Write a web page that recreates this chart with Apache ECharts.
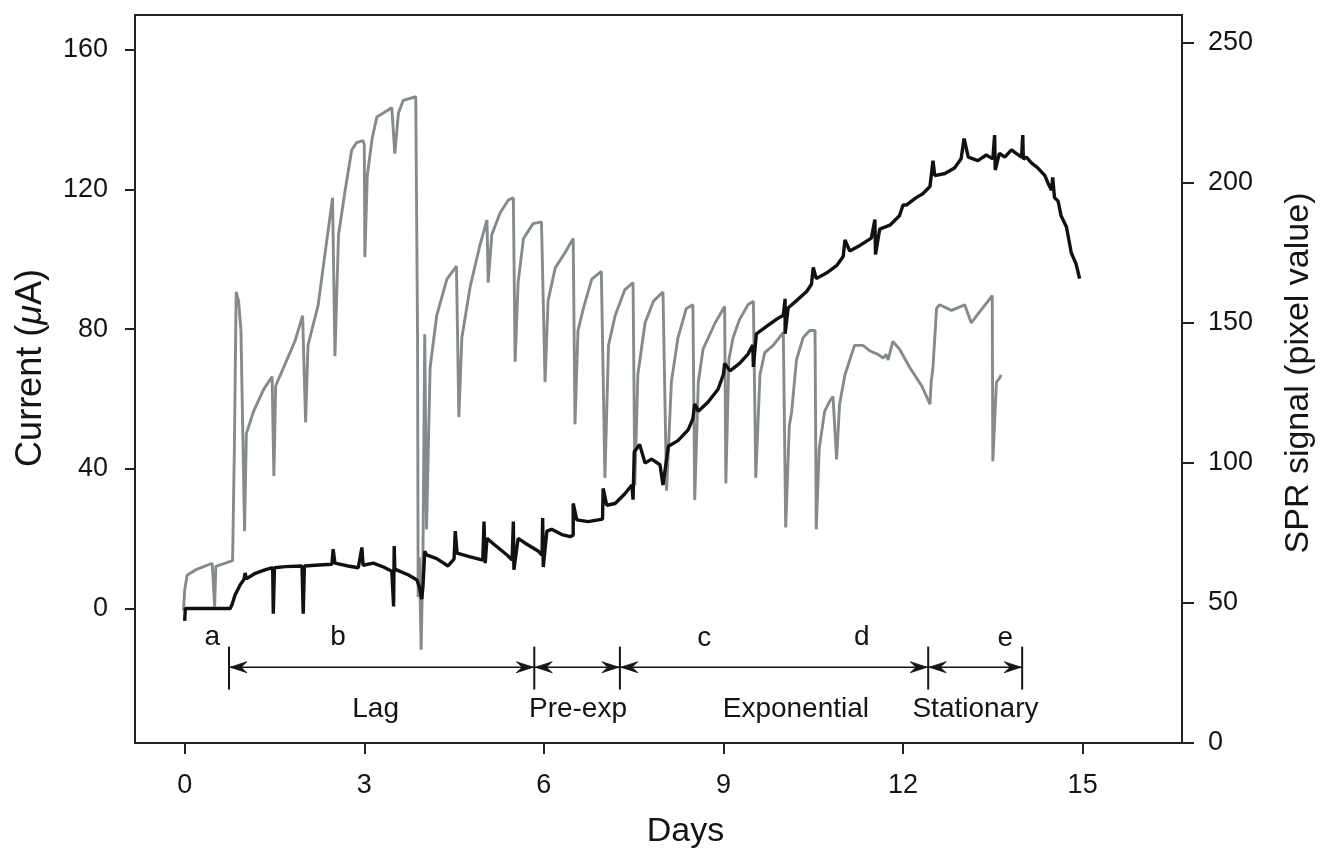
<!DOCTYPE html>
<html>
<head>
    <meta charset="utf-8">
    <title>Current and SPR signal vs days</title>
    <script src="https://cdn.jsdelivr.net/npm/echarts@6/dist/echarts.min.js"></script>
</head>
<body style="margin:0;background:#fff;">
<div id="chart-container" style="width: 1324px; height: 854px;"></div>
<script>
    // tick labels
    var dayTicks = [0, 3, 6, 9, 12, 15];
    var currentTicks = [0, 40, 80, 120, 160];
    var sprTicks = [0, 50, 100, 150, 200, 250];

    // current (uA), left axis: [day, value]
    var current = [
        [0.00, -3.5], [0.01, 0], [0.76, 0], [0.79, 1.1], [0.84, 3.8], [0.93, 6.9], [0.99, 8.3], [1.01, 10.2],
        [1.03, 8.5], [1.18, 10.1], [1.34, 11.1], [1.47, 11.7], [1.48, -1.5], [1.50, 11.7], [1.68, 12.0],
        [1.96, 12.2], [1.98, -1.5], [2.00, 12.2], [2.18, 12.4], [2.46, 12.7], [2.48, 17.0], [2.51, 13.0],
        [2.73, 12.2], [2.90, 11.7], [2.96, 17.5], [2.98, 12.4], [3.15, 13.0], [3.32, 11.9], [3.46, 10.7],
        [3.49, 0.6], [3.50, 17.9], [3.51, 11.3], [3.74, 9.6], [3.88, 8.2], [3.92, 6.2], [3.96, 2.7], [3.98, 6.2],
        [4.01, 16.4], [4.04, 15.4], [4.21, 14.3], [4.40, 12.2], [4.50, 14.2], [4.52, 22.2], [4.55, 15.9],
        [4.77, 14.8], [4.98, 13.9], [5.00, 24.9], [5.02, 13.0], [5.05, 20.1], [5.16, 18.5], [5.38, 15.4],
        [5.47, 13.9], [5.49, 24.9], [5.50, 11.1], [5.57, 20.1], [5.71, 18.5], [5.91, 16.4], [5.97, 15.3],
        [5.98, 25.9], [5.99, 11.9], [6.05, 22.2], [6.13, 22.7], [6.30, 21.2], [6.44, 20.6], [6.49, 21.0],
        [6.49, 30.1], [6.55, 25.4], [6.74, 24.9], [6.91, 25.4], [6.98, 25.6], [6.99, 34.4], [7.05, 29.6],
        [7.19, 30.1], [7.35, 32.8], [7.47, 35.4], [7.49, 31.2], [7.51, 44.9], [7.60, 47.0], [7.69, 41.7],
        [7.80, 42.8], [7.94, 41.2], [7.99, 35.4], [8.08, 46.5], [8.24, 48.1], [8.41, 51.2], [8.49, 54.4],
        [8.52, 58.6], [8.58, 56.5], [8.74, 59.1], [8.91, 62.8], [9.00, 67.1], [9.02, 70.2], [9.11, 68.1],
        [9.27, 70.2], [9.41, 72.9], [9.49, 75.5], [9.50, 69.2], [9.55, 78.7], [9.72, 80.8], [9.89, 82.9],
        [10.00, 84.0], [10.03, 88.7], [10.03, 78.7], [10.08, 86.1], [10.22, 88.2], [10.39, 90.8], [10.47, 92.9],
        [10.50, 97.7], [10.55, 94.5], [10.72, 96.1], [10.89, 98.2], [11.00, 100.8], [11.03, 105.6], [11.11, 102.4],
        [11.28, 104.0], [11.47, 106.1], [11.53, 111.4], [11.54, 101.4], [11.61, 108.7], [11.78, 109.8],
        [11.94, 112.5], [12.00, 115.6], [12.06, 115.6], [12.22, 117.7], [12.33, 118.8], [12.45, 120.9],
        [12.50, 128.3], [12.53, 124.0], [12.70, 124.6], [12.86, 126.2], [12.97, 128.8], [13.02, 134.6],
        [13.09, 129.3], [13.25, 128.3], [13.39, 129.9], [13.50, 128.8], [13.53, 135.6], [13.54, 125.6],
        [13.61, 130.4], [13.70, 129.3], [13.81, 131.4], [13.89, 130.4], [13.98, 129.3], [14.00, 135.6],
        [14.01, 128.7], [14.06, 129.3], [14.14, 127.7], [14.25, 126.2], [14.37, 124.0], [14.42, 121.9],
        [14.48, 119.8], [14.50, 123.5], [14.53, 117.7], [14.59, 116.7], [14.64, 112.5], [14.73, 109.3],
        [14.81, 101.9], [14.89, 98.7], [14.95, 94.5]
    ];

    // SPR signal (pixel value), right axis: [day, value]
    var spr = [
        [-0.02, 47.4], [0.00, 54.6], [0.04, 59.9], [0.18, 61.8], [0.46, 64.2], [0.50, 48.7], [0.52, 63.1],
        [0.80, 65.1], [0.83, 105.2], [0.86, 161.1], [0.90, 157.9], [0.94, 147.3], [1.00, 75.6], [1.03, 110.5],
        [1.15, 118.4], [1.32, 126.3], [1.46, 130.9], [1.49, 95.4], [1.52, 127.6], [1.68, 135.5], [1.84, 143.4],
        [1.97, 152.6], [2.02, 114.5], [2.06, 142.0], [2.23, 156.5], [2.37, 178.9], [2.47, 194.7], [2.51, 138.1],
        [2.57, 181.5], [2.68, 197.3], [2.79, 211.8], [2.87, 214.4], [2.98, 215.1], [3.00, 213.7], [3.01, 173.6],
        [3.05, 202.6], [3.13, 215.7], [3.21, 223.6], [3.46, 226.9], [3.51, 210.5], [3.57, 224.9], [3.65, 229.5],
        [3.86, 230.8], [3.89, 144.7], [3.90, 52.1], [3.92, 66.3], [3.95, 33.3], [3.98, 66.3], [4.01, 146.0],
        [4.04, 76.3], [4.10, 134.1], [4.21, 152.6], [4.38, 165.7], [4.54, 170.3], [4.58, 116.4], [4.63, 144.7],
        [4.77, 163.1], [4.93, 177.6], [5.05, 186.8], [5.07, 164.4], [5.13, 181.5], [5.27, 189.4], [5.41, 194.0],
        [5.49, 194.7], [5.52, 136.2], [5.57, 164.4], [5.66, 180.2], [5.82, 185.5], [5.96, 186.1], [6.02, 128.9],
        [6.07, 157.9], [6.19, 169.7], [6.35, 175.0], [6.49, 180.2], [6.52, 113.8], [6.57, 147.3], [6.66, 155.2],
        [6.80, 165.7], [6.96, 168.4], [7.02, 94.7], [7.08, 142.0], [7.19, 152.6], [7.35, 161.8], [7.49, 164.4],
        [7.52, 92.1], [7.57, 131.5], [7.69, 150.0], [7.83, 157.8], [7.99, 161.1], [8.05, 90.1], [8.13, 128.9],
        [8.24, 144.7], [8.38, 155.2], [8.49, 156.5], [8.52, 86.8], [8.58, 128.9], [8.66, 140.7], [8.86, 150.0],
        [9.02, 155.9], [9.04, 92.7], [9.09, 136.8], [9.16, 144.7], [9.27, 151.3], [9.41, 156.5], [9.50, 157.8],
        [9.54, 94.7], [9.61, 131.5], [9.69, 139.4], [9.83, 142.0], [10.00, 146.6], [10.04, 77.0], [10.10, 113.2],
        [10.14, 118.4], [10.22, 136.8], [10.33, 144.7], [10.44, 147.3], [10.53, 147.3], [10.55, 76.3],
        [10.60, 105.2], [10.69, 118.4], [10.78, 122.3], [10.83, 123.7], [10.89, 101.3], [10.94, 121.0],
        [11.03, 131.5], [11.11, 136.8], [11.19, 142.0], [11.33, 142.0], [11.44, 140.1], [11.58, 138.8],
        [11.67, 137.5], [11.72, 138.8], [11.75, 136.8], [11.83, 143.4], [11.94, 140.7], [12.11, 134.2],
        [12.31, 127.6], [12.45, 121.0], [12.47, 128.9], [12.50, 134.2], [12.53, 144.7], [12.56, 155.2],
        [12.61, 156.5], [12.81, 154.5], [13.03, 156.5], [13.14, 150.0], [13.23, 152.6], [13.42, 157.8],
        [13.49, 159.8], [13.50, 100.6], [13.56, 128.9], [13.61, 130.2], [13.64, 131.5]
    ];

    // growth phase boundaries (days) drawn as double arrows under the curves
    var phaseBounds = [0.74, 5.84, 7.27, 12.42, 13.99];
    var arrowLevel = -16.8;
    var barTop = -10.9;
    var barBottom = -23.2;

    // annotation texts: [day, current level]
    var letterNames = ['a', 'b', 'c', 'd', 'e'];
    var letterPos = [[0.46, -8.3], [2.56, -8.1], [8.68, -8.5], [11.31, -8.1], [13.71, -8.5]];
    var phaseNames = ['Lag', 'Pre-exp', 'Exponential', 'Stationary'];
    var phasePos = [[3.19, -28.9], [6.57, -28.9], [10.21, -28.9], [13.21, -28.9]];

    var FONT = '"Liberation Sans", Arial, Helvetica, sans-serif';
    var INK = '#151515';

    function arrowHead(x, y, dir) {
        // dir = 1: tip on the left, opening to the right
        return {
            type: 'polygon',
            shape: {points: [[x, y], [x + dir * 17, y - 5.5], [x + dir * 11, y], [x + dir * 17, y + 5.5]]},
            style: {fill: INK, stroke: INK, lineWidth: 0.8}
        };
    }

    function renderPhases(params, api) {
        var i = params.dataIndex;
        var d = phaseBounds[i];
        var top = api.coord([d, barTop]);
        var bot = api.coord([d, barBottom]);
        var children = [{
            type: 'line',
            shape: {x1: top[0], y1: top[1], x2: bot[0], y2: bot[1]},
            style: {stroke: INK, lineWidth: 2}
        }];
        if (i < phaseBounds.length - 1) {
            var a = api.coord([d, arrowLevel]);
            var b = api.coord([phaseBounds[i + 1], arrowLevel]);
            children.push({
                type: 'line',
                shape: {x1: a[0], y1: a[1], x2: b[0], y2: b[1]},
                style: {stroke: INK, lineWidth: 1.6}
            });
            children.push(arrowHead(a[0] + 1, a[1], 1));
            children.push(arrowHead(b[0] - 1, b[1], -1));
        }
        return {type: 'group', children: children};
    }

    function textRenderer(names) {
        return function (params, api) {
            var p = api.coord([api.value(0), api.value(1)]);
            return {
                type: 'text',
                x: p[0],
                y: p[1],
                style: {
                    text: names[params.dataIndex],
                    fill: INK,
                    fontSize: 28,
                    fontFamily: FONT,
                    align: 'center',
                    verticalAlign: 'middle'
                }
            };
        };
    }

    var axisLineStyle = {color: '#222', width: 2};
    var labelStyle = {color: INK, fontSize: 27, fontFamily: FONT};

    var option = {
        animation: false,
        backgroundColor: '#fff',
        grid: {
            left: 135, right: 141, top: 15, bottom: 107,
            show: true, borderColor: '#222', borderWidth: 2, backgroundColor: 'transparent'
        },
        xAxis: {
            type: 'value',
            min: -0.83,
            max: 16.66,
            name: 'Days',
            nameLocation: 'middle',
            nameGap: 72,
            nameTextStyle: {color: INK, fontSize: 34, fontFamily: FONT, padding: [0, 0, 0, 54]},
            axisLine: {show: true, onZero: false, lineStyle: axisLineStyle},
            axisTick: {show: true, length: 11, customValues: dayTicks, lineStyle: {color: '#222', width: 2}},
            axisLabel: Object.assign({margin: 29, customValues: dayTicks}, labelStyle),
            splitLine: {show: false}
        },
        yAxis: [
            {
                type: 'value',
                position: 'left',
                min: -38.5,
                max: 170,
                name: 'Current ({i|\u03bc}A)',
                nameLocation: 'middle',
                nameRotate: 90,
                nameGap: 86,
                nameTextStyle: {
                    color: INK, fontSize: 36, fontFamily: FONT, padding: [0, 0, 0, 22],
                    rich: {i: {fontStyle: 'italic', fontSize: 36, fontFamily: FONT, color: INK}}
                },
                axisLine: {show: true, onZero: false, lineStyle: axisLineStyle},
                axisTick: {show: true, length: 10, customValues: currentTicks, lineStyle: {color: '#222', width: 2}},
                axisLabel: Object.assign({margin: 27, customValues: currentTicks}, labelStyle),
                splitLine: {show: false}
            },
            {
                type: 'value',
                position: 'right',
                min: 0,
                max: 260,
                name: 'SPR signal (pixel value)',
                nameLocation: 'middle',
                nameRotate: 90,
                nameGap: 100,
                nameTextStyle: {color: INK, fontSize: 34, fontFamily: FONT, padding: [0, 0, 0, 12]},
                axisLine: {show: true, onZero: false, lineStyle: axisLineStyle},
                axisTick: {show: true, length: 12, customValues: sprTicks, lineStyle: {color: '#222', width: 2}},
                axisLabel: Object.assign({margin: 26, customValues: sprTicks}, labelStyle),
                splitLine: {show: false}
            }
        ],
        series: [
            {
                name: 'SPR signal',
                type: 'line',
                yAxisIndex: 1,
                data: spr,
                showSymbol: false,
                symbol: 'none',
                lineStyle: {color: '#858a8d', width: 2.9},
                z: 2
            },
            {
                name: 'Current',
                type: 'line',
                yAxisIndex: 0,
                data: current,
                showSymbol: false,
                symbol: 'none',
                lineStyle: {color: '#111', width: 3.4},
                z: 3
            },
            {
                type: 'custom',
                yAxisIndex: 0,
                data: phaseBounds.map(function (d) { return [d, arrowLevel]; }),
                renderItem: renderPhases,
                silent: true,
                z: 4
            },
            {
                type: 'custom',
                yAxisIndex: 0,
                data: letterPos,
                renderItem: textRenderer(letterNames),
                silent: true,
                z: 4
            },
            {
                type: 'custom',
                yAxisIndex: 0,
                data: phasePos,
                renderItem: textRenderer(phaseNames),
                silent: true,
                z: 4
            }
        ]
    };

    var chart = echarts.init(document.getElementById('chart-container'));
    chart.setOption(option);
</script>
</body>
</html>
